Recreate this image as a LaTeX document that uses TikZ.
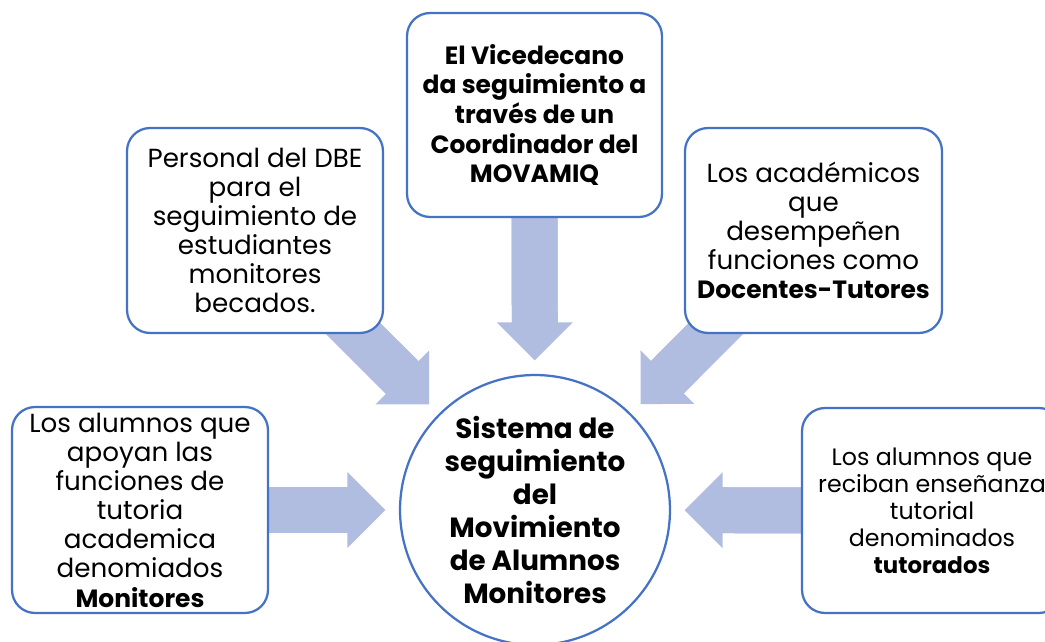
\documentclass[tikz,border=0pt]{standalone}
\usepackage{fontspec}
\setmainfont{Poppins}
\usetikzlibrary{arrows.meta,backgrounds}
\definecolor{boxblue}{RGB}{68,114,196}
\definecolor{arrowfill}{RGB}{176,189,225}
\newcommand\bfpart[1]{{\fontsize{14.2}{16.6}\selectfont\bfseries #1}}
\begin{document}
\begin{tikzpicture}[x=0.02cm,y=-0.02cm,
  box/.style={draw=boxblue, line width=0.045cm, fill=white, rounded corners=0.46cm,
    align=center, inner sep=0pt, font=\fontsize{14.9}{16.6}\selectfont},
  boldbox/.style={box, font=\fontsize{14.2}{16.9}\selectfont\bfseries},
  hub/.style={circle, draw=boxblue, line width=0.045cm, fill=white, align=center,
    inner sep=0pt, minimum size=5.4cm, font=\fontsize{15.8}{18.8}\selectfont\bfseries},
  bigarrow/.style={draw=arrowfill, line width=0.92cm,
    -{Triangle[length=0.76cm,width=1.52cm,line width=0pt]}, shorten >=0.27cm,
    postaction={draw=arrowfill, line width=0.92cm, -, shorten >=0.95cm}}
]
\useasboundingbox (0,0) rectangle (1045,642);

\node[boldbox, minimum width=5.1cm, minimum height=4.08cm] (vice) at (534.5,115)
  {El Vicedecano\\ da seguimiento a\\ través de un\\ Coordinador del\\ MOVAMIQ};
\node[box, minimum width=5.12cm, minimum height=4.1cm] (dbe) at (255,230.5)
  {Personal del DBE\\ para el\\ seguimiento de\\ estudiantes\\ monitores\\ becados.};
\node[box, minimum width=5.14cm, minimum height=4.1cm] (doc) at (813.5,230.5)
  {Los académicos\\ que\\ desempeñen\\ funciones como\\ \bfpart{Docentes-Tutores}};
\node[box, minimum width=5.12cm, minimum height=4.12cm] (mon) at (140,510)
  {Los alumnos que\\ apoyan las\\ funciones de\\ tutoria\\ academica\\ denomiados\\ \bfpart{Monitores}};
\node[box, minimum width=5.2cm, minimum height=4.1cm, font=\fontsize{13.5}{15.4}\selectfont] (tut) at (932,510.5)
  {Los alumnos que\\ reciban enseñanza\\ tutorial\\ denominados\\ {\fontsize{13}{15.4}\selectfont\bfseries tutorados}};
\node[hub] (c) at (535,510)
  {Sistema de\\ seguimiento\\ del\\ Movimiento\\ de Alumnos\\ Monitores};

\begin{scope}[on background layer]
  \draw[bigarrow] (vice.center) -- (c);
  \draw[bigarrow] (dbe.center) -- (c);
  \draw[bigarrow] (doc.center) -- (c);
  \draw[bigarrow] (mon.center) -- (c);
  \draw[bigarrow] (tut.center) -- (c);
\end{scope}
\end{tikzpicture}
\end{document}
